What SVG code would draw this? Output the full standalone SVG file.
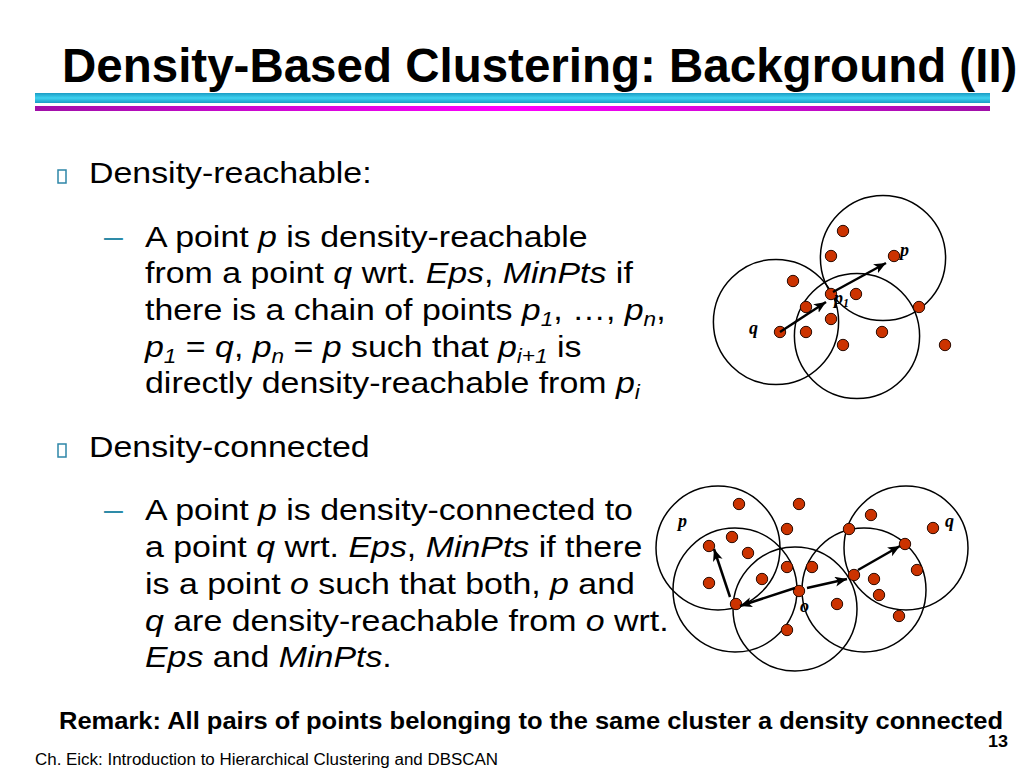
<svg xmlns="http://www.w3.org/2000/svg" width="1024" height="768" viewBox="0 0 1024 768">
<defs>
<linearGradient id="cy" x1="0" y1="0" x2="0" y2="1">
<stop offset="0" stop-color="#1a9cc4"/><stop offset="0.5" stop-color="#3fd2f0"/><stop offset="1" stop-color="#1a9cc4"/>
</linearGradient>
<linearGradient id="mg" x1="0" y1="0" x2="1" y2="0">
<stop offset="0" stop-color="#a010a8"/><stop offset="0.5" stop-color="#ff00ff"/><stop offset="1" stop-color="#a010a8"/>
</linearGradient>
<marker id="ah" markerUnits="userSpaceOnUse" markerWidth="14" markerHeight="12" refX="12" refY="5" orient="auto">
<path d="M0,0 L12,5 L0,10 L3,5 z" fill="#000"/>
</marker>
<style>
.t{font-family:"Liberation Sans",Arial,sans-serif;font-size:30px;fill:#000}
.i{font-style:italic}
.sb{font-size:20px;font-style:italic}
.dash{font-family:"Liberation Sans",Arial,sans-serif;font-size:30px;fill:#2e8ba8}
.box{fill:none;stroke:#2e86a8;stroke-width:1.5}
.c{fill:none;stroke:#000;stroke-width:1.5}
.d{fill:#cc3300;stroke:#2a0a00;stroke-width:1}
.a{stroke:#000;stroke-width:2.5;fill:none;marker-end:url(#ah)}
.lb{font-family:"Liberation Serif","Times New Roman",serif;font-weight:bold;font-style:italic;font-size:18px;fill:#000}
</style>
</defs>
<rect width="1024" height="768" fill="#fff"/>

<g id="title">
<text x="62" y="82" font-family="'Liberation Sans',Arial,sans-serif" font-weight="bold" font-size="47.5">Density-Based Clustering: Background (II)</text>
<rect x="35" y="93" width="955" height="10" fill="url(#cy)"/>
<rect x="35" y="106" width="955" height="5" fill="url(#mg)"/>
</g>

<g id="bullet1">
<rect class="box" x="58" y="170" width="8" height="13"/>
<g transform="translate(89,0) scale(1.13,1)"><text class="t" x="0" y="183">Density-reachable:</text></g>
</g>

<g id="sub1">
<g transform="translate(104,0) scale(1.13,1)"><text class="dash" x="0" y="247">–</text></g>
<g transform="translate(145,0) scale(1.13,1)">
<text class="t" x="0" y="247">A point <tspan class="i">p</tspan> is density-reachable</text>
<text class="t" x="0" y="283">from a point <tspan class="i">q</tspan> wrt. <tspan class="i">Eps</tspan>, <tspan class="i">MinPts</tspan> if</text>
<text class="t" x="0" y="320">there is a chain of points <tspan class="i">p</tspan><tspan class="sb" dy="6">1</tspan><tspan dy="-6">, …, </tspan><tspan class="i">p</tspan><tspan class="sb" dy="6">n</tspan><tspan dy="-6">,</tspan></text>
<text class="t" x="0" y="357"><tspan class="i">p</tspan><tspan class="sb" dy="6">1</tspan><tspan dy="-6"> = </tspan><tspan class="i">q</tspan>, <tspan class="i">p</tspan><tspan class="sb" dy="6">n</tspan><tspan dy="-6"> = </tspan><tspan class="i">p</tspan> such that <tspan class="i">p</tspan><tspan class="sb" dy="6">i+1</tspan><tspan dy="-6"> is</tspan></text>
<text class="t" x="0" y="393">directly density-reachable from <tspan class="i">p</tspan><tspan class="sb" dy="6">i</tspan></text>
</g>
</g>

<g id="bullet2">
<rect class="box" x="58" y="444" width="8" height="13"/>
<g transform="translate(89,0) scale(1.13,1)"><text class="t" x="0" y="457">Density-connected</text></g>
</g>

<g id="sub2">
<g transform="translate(104,0) scale(1.13,1)"><text class="dash" x="0" y="520">–</text></g>
<g transform="translate(145,0) scale(1.13,1)">
<text class="t" x="0" y="520">A point <tspan class="i">p</tspan> is density-connected to</text>
<text class="t" x="0" y="557">a point <tspan class="i">q</tspan> wrt. <tspan class="i">Eps</tspan>, <tspan class="i">MinPts</tspan> if there</text>
<text class="t" x="0" y="594">is a point <tspan class="i">o</tspan> such that both, <tspan class="i">p</tspan> and</text>
<text class="t" x="0" y="631"><tspan class="i">q</tspan> are density-reachable from <tspan class="i">o</tspan> wrt.</text>
<text class="t" x="0" y="667"><tspan class="i">Eps</tspan> and <tspan class="i">MinPts</tspan>.</text>
</g>
</g>

<g id="diagram1">
<circle class="c" cx="883" cy="258" r="62.6"/>
<circle class="c" cx="776" cy="322" r="62.6"/>
<circle class="c" cx="857" cy="336" r="62.6"/>
<circle class="d" cx="843" cy="231" r="5.7"/>
<circle class="d" cx="831" cy="256" r="5.7"/>
<circle class="d" cx="894" cy="256" r="5.7"/>
<circle class="d" cx="793" cy="281" r="5.7"/>
<circle class="d" cx="831" cy="294" r="5.7"/>
<circle class="d" cx="856" cy="294" r="5.7"/>
<circle class="d" cx="806" cy="307" r="5.7"/>
<circle class="d" cx="919" cy="307" r="5.7"/>
<circle class="d" cx="831" cy="319" r="5.7"/>
<circle class="d" cx="780" cy="332" r="5.7"/>
<circle class="d" cx="806" cy="332" r="5.7"/>
<circle class="d" cx="882" cy="332" r="5.7"/>
<circle class="d" cx="843" cy="345" r="5.7"/>
<circle class="d" cx="945" cy="345" r="5.7"/>
<text class="lb" x="900" y="256">p</text>
<text class="lb" x="834" y="304">p<tspan font-size="12" dy="3">1</tspan></text>
<text class="lb" x="749" y="334">q</text>
</g>

<g id="diagram2">
<circle class="c" cx="718" cy="548" r="62"/>
<circle class="c" cx="735" cy="590" r="62"/>
<circle class="c" cx="795" cy="609" r="62"/>
<circle class="c" cx="864" cy="590" r="62"/>
<circle class="c" cx="906" cy="548" r="62"/>
<circle class="d" cx="739" cy="504" r="5.7"/>
<circle class="d" cx="799" cy="504" r="5.7"/>
<circle class="d" cx="871" cy="515" r="5.7"/>
<circle class="d" cx="787" cy="529" r="5.7"/>
<circle class="d" cx="849" cy="529" r="5.7"/>
<circle class="d" cx="933" cy="528" r="5.7"/>
<circle class="d" cx="732" cy="537" r="5.7"/>
<circle class="d" cx="709" cy="546" r="5.7"/>
<circle class="d" cx="905" cy="544" r="5.7"/>
<circle class="d" cx="748" cy="553" r="5.7"/>
<circle class="d" cx="787" cy="567" r="5.7"/>
<circle class="d" cx="812" cy="567" r="5.7"/>
<circle class="d" cx="917" cy="570" r="5.7"/>
<circle class="d" cx="854" cy="575" r="5.7"/>
<circle class="d" cx="762" cy="579" r="5.7"/>
<circle class="d" cx="874" cy="579" r="5.7"/>
<circle class="d" cx="709" cy="583" r="5.7"/>
<circle class="d" cx="799" cy="591" r="5.7"/>
<circle class="d" cx="879" cy="595" r="5.7"/>
<circle class="d" cx="736" cy="604" r="5.7"/>
<circle class="d" cx="837" cy="604" r="5.7"/>
<circle class="d" cx="899" cy="616" r="5.7"/>
<circle class="d" cx="787" cy="630" r="5.7"/>
<text class="lb" x="678" y="527">p</text>
<text class="lb" x="945" y="527">q</text>
<text class="lb" x="800" y="612" font-size="14">o</text>
</g>

<g id="connectors">
<line class="a" x1="780" y1="332" x2="826" y2="302"/>
<line class="a" x1="833" y1="292" x2="886" y2="263"/>
<line class="a" x1="730" y1="597" x2="714" y2="549"/>
<line class="a" x1="795" y1="588" x2="740" y2="606"/>
<line class="a" x1="807" y1="588" x2="847" y2="579"/>
<line class="a" x1="858" y1="570" x2="900" y2="546"/>
</g>

<g id="footer">
<text x="59" y="729" font-family="'Liberation Sans',Arial,sans-serif" font-weight="bold" font-size="24" textLength="944" lengthAdjust="spacingAndGlyphs">Remark: All pairs of points belonging to the same cluster a density connected</text>
<text x="988" y="747" font-family="'Liberation Sans',Arial,sans-serif" font-weight="bold" font-size="16" textLength="20" lengthAdjust="spacingAndGlyphs">13</text>
<text x="35" y="765" font-family="'Liberation Sans',Arial,sans-serif" font-size="16" textLength="463" lengthAdjust="spacingAndGlyphs">Ch. Eick: Introduction to Hierarchical Clustering and DBSCAN</text>
</g>
</svg>
